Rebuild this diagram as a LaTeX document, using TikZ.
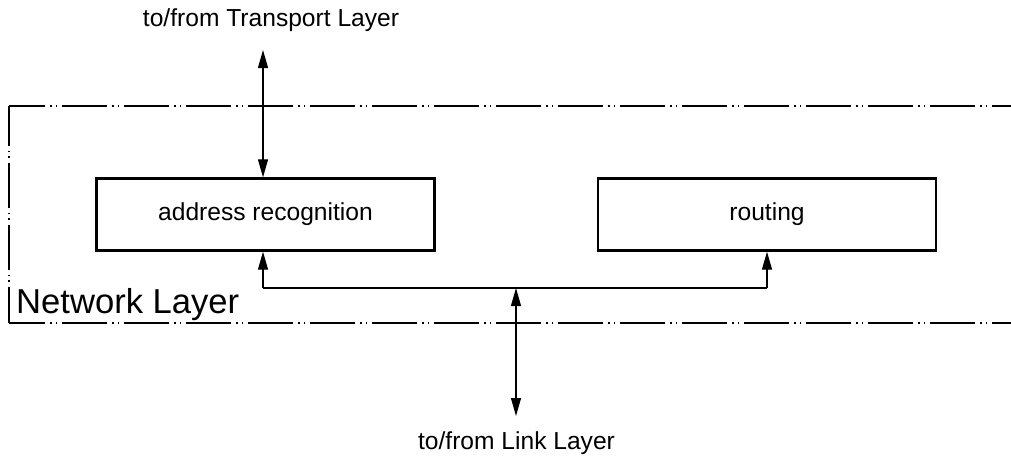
\documentclass[tikz,border=0pt]{standalone}
\usepackage{fontspec}
\setmainfont{Liberation Sans}
\usetikzlibrary{arrows.meta}
\begin{document}
\begin{tikzpicture}[x=1pt,y=-1pt,
  block/.style={draw,line width=2.4pt,minimum width=338pt,minimum height=72pt,inner sep=0pt,
    font=\fontsize{24.6}{28}\selectfont},
  label/.style={font=\fontsize{24.6}{28}\selectfont,inner sep=0pt},
  frame/.style={line width=1.6pt,dash pattern=on 45pt off 4.5pt on 1.6pt off 4.3pt on 1.6pt off 5pt},
  link/.style={line width=1.2pt,{Triangle[length=18pt,width=10pt]}-{Triangle[length=18pt,width=10pt]}},
  feed/.style={line width=1.2pt,-{Triangle[length=18pt,width=10pt]}}]
\useasboundingbox (0,0) rectangle (1011,461);

% layer boundary, open on the right
\draw[frame,dash phase=8.6pt] (9,106) -- (1011,106);
\draw[frame,dash phase=8.6pt] (9,323) -- (1011,323);
\draw[frame,dash phase=5pt] (9,106) -- (9,323);
\node[label,anchor=base west,font=\fontsize{34.6}{40}\selectfont] (layer) at (16,313) {Network Layer};

% functional blocks
\node[block] (addr) at (265.5,214.5) {address recognition};
\node[block] (route) at (767,214.5) {routing};

% external interfaces
\node[label] (transport) at (271,20) {to/from Transport Layer};
\node[label] (link) at (516.5,443) {to/from Link Layer};
\coordinate (ttop) at (263,50);
\coordinate (lbot) at (516,416);

% internal bus
\coordinate (busL) at (263,288);
\coordinate (busR) at (767,288);
\coordinate (busM) at (516,288);
\draw[line width=1.2pt] (busL) -- (busR);
\draw[feed] (busL) -- (busL |- addr.south);
\draw[feed] (busR) -- (busR |- route.south);
\draw[link] (busM) -- (lbot);
\draw[link] (ttop) -- (ttop |- addr.north);
\end{tikzpicture}
\end{document}
